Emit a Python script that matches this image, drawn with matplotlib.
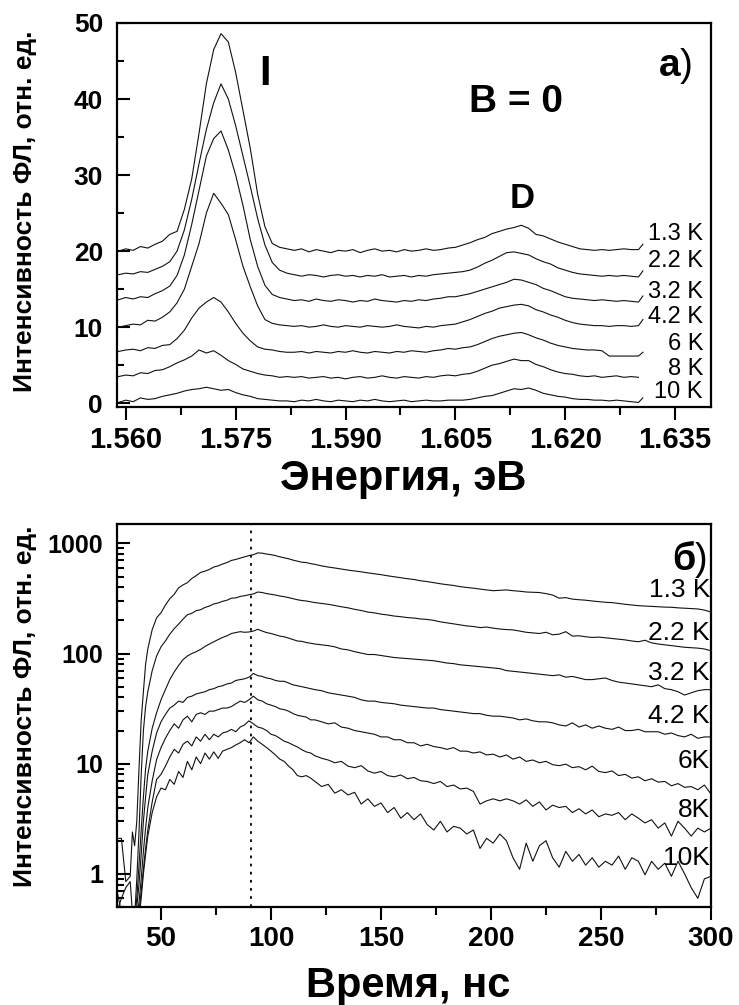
import matplotlib
matplotlib.use("Agg")
import matplotlib.pyplot as plt
import numpy as np
from matplotlib.ticker import MultipleLocator, FixedLocator, NullFormatter

plt.rcParams['font.family'] = ['Liberation Sans', 'DejaVu Sans']

# ---- panel a): PL spectra, B = 0 ----
energy = [1.559, 1.560, 1.561, 1.562, 1.563, 1.564, 1.565, 1.566, 1.567, 1.568,
          1.569, 1.570, 1.571, 1.572, 1.573, 1.574, 1.575, 1.576, 1.577, 1.578,
          1.579, 1.580, 1.581, 1.582, 1.583, 1.584, 1.585, 1.586, 1.587, 1.588,
          1.589, 1.590, 1.591, 1.592, 1.593, 1.594, 1.595, 1.596, 1.597, 1.598,
          1.599, 1.600, 1.601, 1.602, 1.603, 1.604, 1.605, 1.606, 1.607, 1.608,
          1.609, 1.610, 1.611, 1.612, 1.613, 1.614, 1.615, 1.616, 1.617, 1.618,
          1.619, 1.620, 1.621, 1.622, 1.623, 1.624, 1.625, 1.626, 1.627, 1.628,
          1.629, 1.630, 1.6306]

spec_13 = [20.0, 20.3, 20.1, 20.6, 20.4, 20.9, 21.3, 22.2, 22.6, 25.5,
           29.5, 35.5, 42.0, 46.5, 48.6, 47.5, 43.5, 38.5, 33.5, 27.5,
           23.2, 21.0, 20.5, 20.3, 20.1, 20.3, 19.9, 20.2, 20.0, 19.8,
           20.1, 20.0, 20.2, 19.8, 20.1, 20.3, 20.0, 20.1, 19.9, 20.2,
           20.0, 20.1, 20.3, 20.1, 20.2, 20.4, 20.5, 20.8, 21.1, 21.5,
           21.8, 22.3, 22.6, 22.9, 23.1, 23.4, 23.0, 22.2, 22.0, 21.6,
           21.2, 20.9, 20.6, 20.3, 20.2, 20.1, 20.2, 20.1, 20.2, 20.3,
           20.2, 20.2, 20.9]
spec_22 = [16.9, 17.1, 17.0, 17.3, 17.2, 17.6, 18.0, 18.6, 20.0, 22.8,
           26.8, 31.5, 36.0, 39.5, 42.0, 40.0, 36.5, 32.5, 28.5, 24.3,
           20.8, 18.5, 17.5, 17.1, 16.9, 16.7, 16.9, 16.8, 16.6, 16.8,
           16.9, 16.7, 16.8, 16.6, 16.8, 16.7, 16.9, 16.6, 16.7, 16.8,
           16.6, 16.8, 16.7, 16.9, 17.0, 17.1, 17.2, 17.3, 17.5, 17.9,
           18.4, 18.8, 19.3, 19.8, 19.9, 19.7, 19.5, 19.0, 18.6, 18.3,
           17.8, 17.5, 17.2, 17.0, 16.9, 16.8, 16.7, 16.8, 16.7, 16.8,
           16.7, 16.6, 17.4]
spec_32 = [13.6, 13.9, 13.7, 14.0, 13.9, 14.4, 14.8, 15.4, 16.8, 19.5,
           23.5, 28.0, 32.5, 34.8, 35.8, 33.3, 30.0, 26.0, 21.5, 18.0,
           15.5, 14.3, 13.9, 13.7, 13.5, 13.6, 13.4, 13.7, 13.5, 13.4,
           13.6, 13.5, 13.3, 13.5, 13.4, 13.7, 13.5, 13.4, 13.3, 13.5,
           13.4, 13.6, 13.5, 13.7, 13.8, 14.0, 14.0, 14.2, 14.4, 14.7,
           15.0, 15.3, 15.6, 15.9, 16.3, 16.2, 15.9, 15.6, 15.1, 14.8,
           14.4, 14.0, 13.8, 13.7, 13.6, 13.5, 13.6, 13.5, 13.4, 13.5,
           13.4, 13.3, 14.1]
spec_42 = [10.0, 10.2, 10.4, 10.3, 10.9, 10.8, 11.3, 12.0, 13.2, 15.0,
           18.0, 21.0, 25.0, 27.6, 26.3, 24.8, 21.5, 18.0, 15.3, 12.8,
           11.0, 10.5, 10.3, 10.2, 10.1, 10.2, 10.0, 10.1, 10.3, 10.1,
           10.0, 10.2, 10.1, 10.0, 10.2, 10.1, 10.0, 10.1, 10.3, 10.1,
           10.0, 9.9, 10.1, 10.0, 10.2, 10.3, 10.4, 10.7, 11.0, 11.4,
           11.8, 12.1, 12.5, 12.7, 12.9, 13.0, 12.8, 12.3, 12.0, 11.6,
           11.3, 10.9, 10.6, 10.4, 10.3, 10.2, 10.2, 10.1, 10.2, 10.2,
           10.1, 10.2, 11.0]
spec_6 = [6.8, 7.0, 7.1, 6.9, 7.3, 7.2, 7.6, 7.7, 8.5, 9.6,
          11.2, 12.5, 13.3, 13.9, 13.3, 12.0, 10.5, 9.2, 8.2, 7.4,
          7.1, 7.0, 6.8, 6.7, 6.7, 6.8, 6.6, 6.8, 6.7, 6.6,
          6.8, 6.7, 6.9, 6.7, 6.6, 6.8, 6.7, 6.6, 6.8, 6.7,
          6.9, 6.8, 6.7, 6.9, 7.0, 7.2, 7.1, 7.3, 7.4, 7.7,
          8.1, 8.5, 8.8, 9.0, 9.2, 9.3, 9.0, 8.6, 8.3, 7.9,
          7.6, 7.4, 7.2, 7.1, 7.0, 7.0, 6.9, 6.2, 6.2, 6.2,
          6.2, 6.2, 6.7]
spec_8 = [3.5, 3.7, 3.6, 4.0, 3.9, 4.3, 4.4, 4.8, 5.3, 5.7,
          6.2, 7.0, 6.6, 6.9, 6.3, 5.6, 5.1, 4.5, 4.2, 3.9,
          3.7, 3.6, 3.4, 3.5, 3.4, 3.5, 3.3, 3.4, 3.5, 3.3,
          3.4, 3.2, 3.4, 3.5, 3.3, 3.4, 3.6, 3.4, 3.3, 3.5,
          3.4, 3.3, 3.5, 3.4, 3.6, 3.7, 3.6, 3.8, 3.9, 4.2,
          4.6, 5.0, 5.2, 5.5, 5.8, 5.6, 5.6, 5.1, 4.8, 4.4,
          4.1, 3.9, 3.8, 3.6, 3.5, 3.6, 3.4, 3.5, 3.6, 3.4,
          3.5, 3.4, np.nan]
spec_10 = [0.1, 0.4, 0.2, 0.7, 0.5, 0.6, 0.9, 1.1, 1.3, 1.6,
           1.8, 1.9, 2.1, 1.9, 1.7, 1.8, 1.4, 1.1, 0.9, 0.6,
           0.5, 0.4, 0.3, 0.3, 0.2, 0.4, 0.3, 0.5, 0.3, 0.2,
           0.4, 0.3, 0.2, 0.4, 0.3, 0.5, 0.3, 0.2, 0.3, 0.4,
           0.2, 0.3, 0.4, 0.3, 0.3, 0.4, 0.4, 0.4, 0.5, 0.7,
           0.9, 1.0, 1.3, 1.6, 1.9, 1.8, 2.0, 1.7, 1.3, 1.1,
           0.9, 0.8, 0.6, 0.5, 0.5, 0.4, 0.4, 0.3, 0.4, 0.3,
           0.2, 0.1, 0.7]
spectra = [spec_13, spec_22, spec_32, spec_42, spec_6, spec_8, spec_10]
spec_labels = ["1.3 K", "2.2 K", "3.2 K", "4.2 K", "6 K", "8 K", "10 K"]

# ---- panel б): PL kinetics ----
time = [30, 32, 34, 36, 37, 38, 39, 40, 41, 42, 43, 44, 46, 48, 50,
        52, 54, 56, 58, 60, 62, 64, 66, 68, 70, 72, 74, 76, 78, 80, 82, 84, 86,
        88, 90, 92, 94, 96, 98, 100, 102, 104, 106, 108, 110, 112, 114, 116,
        118, 120,
        123, 126, 129, 132, 135, 138, 141, 144, 147, 150, 153, 156, 159, 162,
        165, 168, 171, 174, 177, 180, 183, 186, 189, 192, 195, 198, 201, 204,
        207, 210, 213, 216, 219, 222, 225, 228, 231, 234, 237, 240, 243, 246,
        249, 252, 255, 258, 261, 264, 267, 270, 273, 276, 279, 282, 285, 288,
        291, 294, 297, 300]

kin_13 = [2.1, 2.1, 0.85, 0.95, 2.4, 1.8, 3.0, 9, 25, 45, 80, 110, 165, 211, 235,
          275, 315, 345, 395, 420, 440, 480, 510, 545, 560,
          580, 610, 625, 650, 670, 700, 715, 735, 755, 775,
          790, 820, 815, 800, 790, 775, 755, 740, 725, 705,
          690, 675, 670, 655, 645,
          625, 610, 598, 585, 572, 562, 552, 540, 530, 520,
          508, 498, 488, 478, 470, 458, 450, 440, 430, 422,
          415, 405, 398, 392, 385, 378, 372, 375, 378, 372,
          368, 362, 360, 358, 350, 340, 318, 322, 312, 308,
          305, 300, 296, 292, 290, 285, 280, 276, 272, 270,
          268, 266, 264, 263, 260, 258, 256, 254, 248, 238]
kin_22 = [0.7, 0.45, 0.4, 0.4, 0.4, 0.4, 0.9, 2.4, 8, 20, 33, 45, 70, 95, 115,
          130, 150, 168, 185, 205, 225, 232, 245, 250, 262,
          270, 282, 288, 298, 305, 318, 320, 330, 335, 342,
          348, 362, 358, 350, 345, 340, 333, 328, 322, 315,
          308, 303, 300, 295, 290,
          285, 280, 273, 266, 260, 252, 246, 238, 234, 228,
          224, 219, 216, 212, 210, 206, 204, 200, 194, 190,
          186, 182, 178, 176, 172, 174, 170, 167, 165, 164,
          160, 156, 154, 152, 156, 148, 150, 158, 144, 145,
          142, 140, 141, 139, 137, 135, 133, 130, 128, 132,
          125, 122, 120, 118, 116, 114, 113, 112, 110, 106]
kin_32 = [0.45, 0.6, 0.75, 0.85, 0.45, 0.4, 0.6, 1.2, 2.5, 5, 9, 13, 21, 29, 38,
          47, 58, 68, 78, 88, 95, 100, 104, 109, 116,
          122, 128, 134, 140, 145, 152, 155, 158, 156, 157,
          160, 166, 160, 155, 152, 148, 144, 142, 138, 134,
          130, 129, 126, 124, 122,
          120, 118, 115, 110, 108, 104, 101, 98, 98, 96,
          94, 92, 91, 90, 89, 88, 87, 86, 84, 82,
          81, 79, 78, 77, 76, 75, 74, 73, 70, 69,
          68, 67, 66, 65, 64, 63, 64, 61, 62, 60,
          58, 58, 59, 60, 57, 55, 54, 53, 52, 51,
          50, 52, 48, 47, 45, 42, 44, 46, 47, 47]
kin_42 = [0.35, 0.3, 0.35, 0.3, 0.35, 0.4, 0.5, 0.8, 1.5, 3, 5, 8, 13, 19, 24,
          28, 32, 34, 37, 36, 40, 41, 43, 44, 45,
          47, 48, 50, 51, 53, 54, 57, 58, 59, 61,
          66, 63, 62, 60, 59, 57, 56, 56, 54, 52,
          51, 50, 49, 48, 47,
          46, 44, 43, 42, 41, 40, 38, 37, 37, 36,
          35.5, 35, 34, 33.5, 33, 32.5, 32, 32, 31, 30.5,
          30, 29.5, 29, 28.5, 28.5, 27.5, 27, 27, 26.5, 26,
          25, 25.5, 24.5, 24, 24, 23.5, 22.5, 22, 23.5, 21.5,
          22.5, 21, 22, 21, 20.5, 21.5, 20, 20, 20.5, 19.5,
          19.5, 19.5, 18.5, 19, 18, 17.5, 18.5, 17, 17.5, 17.5]
kin_6 = [0.3, 0.3, 0.3, 0.3, 0.3, 0.35, 0.4, 0.55, 0.9, 1.6, 2.6, 4, 7, 10.9, 14,
         17, 20, 23, 21, 25, 27, 24, 28, 29, 28,
         30, 30, 31, 32, 32, 33, 35, 37, 36, 38,
         41, 38, 37, 35, 34, 33, 31.5, 31, 30, 28.5,
         27.5, 27, 26.5, 25, 25,
         24, 23, 23.5, 21.5, 21, 20, 19.5, 19, 18.5, 17.5,
         17.5, 16.5, 16.5, 15.5, 15.5, 14.5, 15, 14.3, 14, 13.5,
         14, 13, 13, 12.5, 12.8, 12, 12.2, 11.5, 12, 11,
         11.5, 10.5, 10.8, 10.2, 10.5, 9.8, 9.6, 9.9, 9.2, 9.4,
         8.8, 9.5, 8.5, 8.3, 8.6, 7.8, 8, 7.4, 7.6, 7,
         7.3, 6.8, 6.9, 6.3, 6.6, 6.1, 6.2, 5.8, 6.4, 5.3]
kin_8 = [0.3, 0.3, 0.3, 0.3, 0.3, 0.3, 0.35, 0.45, 0.7, 1.1, 1.7, 2.5, 4.5, 7.2, 8.0,
         9.5, 11.5, 13.5, 12.5, 15, 16, 14.5, 17.5, 16, 18.5,
         16.5, 18.5, 17.5, 19, 19.5, 20.5, 19.5, 21.5, 22.5, 24.5,
         23, 21.5, 21, 20, 18.5, 18, 17, 16, 15.5, 14.8,
         14.2, 13.4, 12.8, 12.5, 11.8,
         11.2, 10.8, 10.2, 10.5, 9.5, 9.2, 9.6, 8.6, 8.2, 8.5,
         7.8, 7.6, 7.9, 7.3, 7.5, 7.0, 6.9, 6.6, 6.9, 6.2,
         6.4, 5.9, 6.0, 5.6, 4.3, 4.6, 4.8, 4.6, 4.8, 4.6,
         4.3, 4.7, 4.1, 4.5, 3.8, 4.2, 4.0, 4.1, 3.6, 3.9,
         3.5, 3.8, 3.3, 3.5, 3.4, 3.6, 3.1, 3.5, 3.2, 2.9,
         3.1, 2.6, 2.9, 2.2, 3.0, 2.6, 2.2, 2.6, 2.4, 2.6]
kin_10 = [0.3, 0.3, 0.3, 0.3, 0.3, 0.3, 0.3, 0.4, 0.6, 1.0, 1.5, 2.2, 3.6, 5.0, 6.0,
          5.8, 7.2, 6.5, 8.5, 7.5, 10.5, 8.8, 11.5, 10, 12.5,
          11, 12.8, 11.2, 13, 13.5, 14, 14.8, 15.5, 16.5, 15.5,
          17.5, 16, 15, 14, 13, 12, 11, 10.5, 9.5, 8.8,
          7.8, 7.6, 7.8, 7.4, 6.9,
          6.2, 6.5, 5.4, 5.8, 5.2, 5.5, 4.3, 4.8, 4.1, 4.4,
          3.6, 4.0, 3.2, 3.6, 3.1, 3.5, 2.8, 2.5, 3.0, 2.4,
          2.7, 2.6, 2.3, 2.5, 1.7, 2.1, 1.9, 2.3, 2.0, 1.4,
          1.1, 1.9, 1.3, 1.8, 2.0, 1.4, 1.15, 1.6, 1.3, 1.5,
          1.2, 1.4, 1.15, 1.3, 1.2, 1.45, 1.1, 1.4, 1.3, 0.98,
          1.3, 1.1, 1.25, 0.95, 1.3, 1.0, 0.75, 0.6, 0.9, 0.95]
kinetics = [kin_13, kin_22, kin_32, kin_42, kin_6, kin_8, kin_10]
kin_labels = ["1.3 K", "2.2 K", "3.2 K", "4.2 K", "6K", "8K", "10K"]
t_marker = 91

# ---- layout (pixel based) ----
W, H = 739, 1005


def fx(x):
    return x / W


def fy(y):
    return 1 - y / H


fig = plt.figure(figsize=(W / 100, H / 100), dpi=100, facecolor="white")
ax1 = fig.add_axes([fx(117), fy(407), (711 - 117) / W, (407 - 23) / H])
ax2 = fig.add_axes([fx(117), fy(907), (711 - 117) / W, (907 - 524) / H])

line_kw = dict(color="#111111", lw=0.8)


def style_axes(ax, xfs, yfs):
    for sp in ax.spines.values():
        sp.set_linewidth(1.6)
    ax.tick_params(axis="x", which="both", direction="out", top=False,
                   width=1.5, labelsize=xfs, pad=5)
    ax.tick_params(axis="x", which="major", length=9)
    ax.tick_params(axis="x", which="minor", length=6)
    ax.tick_params(axis="y", which="both", direction="in", right=False,
                   width=1.5, labelsize=yfs, pad=10)
    ax.tick_params(axis="y", which="major", length=9)
    ax.tick_params(axis="y", which="minor", length=5)
    for lab in ax.get_xticklabels() + ax.get_yticklabels():
        lab.set_fontweight("bold")


# panel a
for vals in spectra:
    ax1.plot(energy, vals, **line_kw)
ax1.set_xlim(1.5588, 1.6399)
ax1.set_ylim(-0.5, 50)
ax1.xaxis.set_major_locator(MultipleLocator(0.015))
ax1.xaxis.set_minor_locator(MultipleLocator(0.0075))
ax1.yaxis.set_major_locator(MultipleLocator(10))
ax1.yaxis.set_minor_locator(MultipleLocator(5))
ax1.xaxis.set_major_formatter(plt.FormatStrFormatter("%.3f"))
style_axes(ax1, 21, 19)

# panel b
for vals in kinetics:
    ax2.plot(time, vals, **line_kw)
ax2.axvline(t_marker, color="black", lw=1.3, ls=(0, (1.5, 3)))
ax2.set_yscale("log")
ax2.set_xlim(30, 300)
ax2.set_ylim(0.5, 1500)
ax2.xaxis.set_major_locator(MultipleLocator(50))
ax2.xaxis.set_minor_locator(MultipleLocator(25))
ax2.yaxis.set_major_locator(FixedLocator([1, 10, 100, 1000]))
ax2.yaxis.set_minor_locator(FixedLocator(
    [m * 10.0 ** e for e in range(-1, 4) for m in range(2, 10)]))
ax2.yaxis.set_major_formatter(plt.FuncFormatter(lambda v, p: "%d" % v))
ax2.yaxis.set_minor_formatter(NullFormatter())
style_axes(ax2, 20, 18)

# axis titles
ylab = "Интенсивность ФЛ, отн. ед."
fig.text(fx(25), fy(211), ylab, rotation=90, ha="center", va="center",
         fontsize=19, fontweight="bold")
fig.text(fx(25), fy(706), ylab, rotation=90, ha="center", va="center",
         fontsize=19, fontweight="bold")
fig.text(fx(403), fy(490), "Энергия, эВ", ha="center", va="baseline",
         fontsize=30, fontweight="bold")
fig.text(fx(408), fy(997), "Время, нс", ha="center", va="baseline",
         fontsize=30, fontweight="bold")

# annotations panel a
fig.text(fx(265), fy(85), "I", ha="center", va="baseline", fontsize=30,
         fontweight="bold")
fig.text(fx(516), fy(112), "B = 0", ha="center", va="baseline", fontsize=28,
         fontweight="bold")
fig.text(fx(522), fy(208), "D", ha="center", va="baseline", fontsize=25,
         fontweight="bold")
fig.text(fx(680), fy(76), "а", ha="right", va="baseline", fontsize=28,
         fontweight="bold")
fig.text(fx(680), fy(76), ")", ha="left", va="baseline", fontsize=28)

spec_label_y = [240, 267, 298, 323, 350, 375, 398]
for lab, yy in zip(spec_labels, spec_label_y):
    fig.text(fx(703), fy(yy), lab, ha="right", va="baseline", fontsize=17)

# annotations panel b
fig.text(fx(695), fy(570), "б", ha="right", va="baseline", fontsize=27,
         fontweight="bold")
fig.text(fx(695), fy(570), ")", ha="left", va="baseline", fontsize=27)

kin_label_y = [597, 640, 680, 723, 768, 817, 865]
for lab, yy in zip(kin_labels, kin_label_y):
    fig.text(fx(710), fy(yy), lab, ha="right", va="baseline", fontsize=19)

fig.savefig("out.png", dpi=100, facecolor="white")
